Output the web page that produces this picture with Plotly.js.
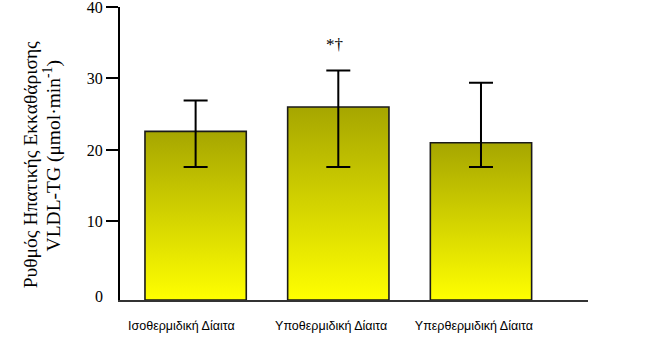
<!DOCTYPE html>
<html>
<head>
<meta charset="utf-8">
<script src="https://cdn.plot.ly/plotly-3.0.1.min.js"></script>
<style>html,body{margin:0;padding:0;background:#fff;}#chart{width:651px;height:360px;}</style>
</head>
<body>
<div id="chart"></div>
<script>
var categories = ["Ισοθερμιδική Δίαιτα", "Υποθερμιδική Δίαιτα", "Υπερθερμιδική Δίαιτα"];
var means = [22.6, 26.0, 21.0];
var upperErr = [26.9, 31.1, 29.4];
var lowerErr = [17.6, 17.6, 17.6];
var yTicks = [10, 20, 30, 40];
var yTitleLines = ["Ρυθμός Ηπατικής Εκκαθάρισης", "VLDL-TG (μmol·min<sup>-1</sup>)"];
var markText = "*†";
var markIndex = 1;
var markValue = 34.8;

var yMin = -1.0, yMax = 40;
var halfW = 0.355;
var labelOffsets = [-0.1, -0.05, -0.05];
var serif = 'Liberation Serif, Times New Roman, serif';
var traces = [];
categories.forEach(function (c, i) {
  traces.push({
    type: 'scatter', mode: 'lines',
    x: [i - halfW, i - halfW, i + halfW, i + halfW, i - halfW],
    y: [yMin, means[i], means[i], yMin, yMin],
    fill: 'toself',
    fillgradient: {type: 'vertical', colorscale: [[0, '#ffff00'], [1, '#a6a600']]},
    line: {color: '#1a1a1a', width: 1.6},
    hoverinfo: 'skip', showlegend: false
  });
});
traces.push({
  type: 'scatter', mode: 'markers',
  x: categories.map(function (c, i) { return i; }),
  y: means,
  marker: {size: 1, opacity: 0},
  error_y: {
    type: 'data', symmetric: false,
    array: means.map(function (m, i) { return upperErr[i] - m; }),
    arrayminus: means.map(function (m, i) { return m - lowerErr[i]; }),
    color: '#000', thickness: 2, width: 12
  },
  hoverinfo: 'skip', showlegend: false
});

var layout = {
  width: 651, height: 360,
  margin: {l: 120, r: 63, t: 7, b: 60},
  paper_bgcolor: '#fff', plot_bgcolor: '#fff',
  showlegend: false,
  xaxis: {
    range: [-0.53, 2.75],
    tickvals: categories.map(function (c, i) { return i + labelOffsets[i]; }),
    ticktext: categories,
    showline: true, linecolor: '#333', linewidth: 2,
    ticks: '', showgrid: false, zeroline: false,
    tickfont: {family: 'Liberation Sans, Arial, sans-serif', size: 12.5, color: '#000'},
    ticklabelstandoff: 13,
    fixedrange: true
  },
  yaxis: {
    range: [yMin, yMax],
    tickvals: yTicks,
    ticks: 'outside', ticklen: 12, tickwidth: 2, tickcolor: '#000',
    showline: true, linecolor: '#000', linewidth: 2,
    showgrid: false, zeroline: false,
    ticklabeloverflow: 'allow',
    tickfont: {family: serif, size: 16, color: '#000'},
    fixedrange: true
  },
  annotations: [
    {xref: 'paper', x: 0, xanchor: 'center', xshift: -90, yref: 'paper', y: 0.46, yanchor: 'middle',
     textangle: -90, text: yTitleLines[0], showarrow: false, font: {family: serif, size: 19.5, color: '#000'}},
    {xref: 'paper', x: 0, xanchor: 'center', xshift: -68, yref: 'paper', y: 0.49, yanchor: 'middle',
     textangle: -90, text: yTitleLines[1], showarrow: false, font: {family: serif, size: 19.5, color: '#000'}},
    {xref: 'paper', x: 0, xanchor: 'right', xshift: -15, yref: 'y', y: yMin, yanchor: 'middle', yshift: 4,
     text: '0', showarrow: false, font: {family: serif, size: 16, color: '#000'}},
    {xref: 'x', x: markIndex - 0.03, yref: 'y', y: markValue, text: markText, showarrow: false,
     font: {family: serif, size: 17, color: '#000'}}
  ]
};
Plotly.newPlot('chart', traces, layout, {displayModeBar: false, staticPlot: true});
</script>
</body>
</html>
